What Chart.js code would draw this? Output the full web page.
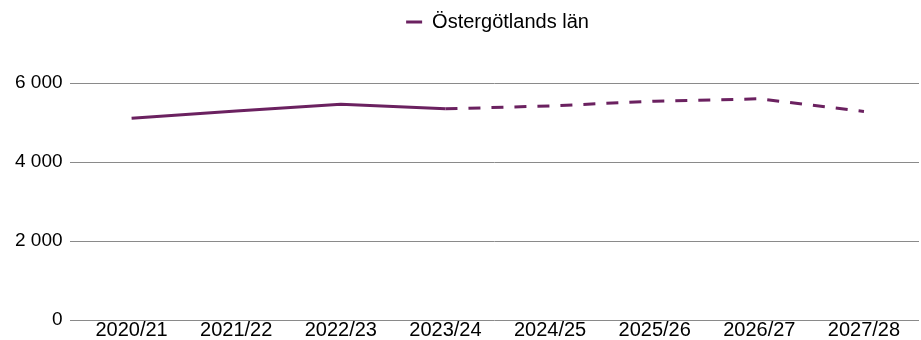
<!DOCTYPE html>
<html>
<head>
<meta charset="utf-8">
<script src="https://cdn.jsdelivr.net/npm/chart.js@4"></script>
<style>
  html, body { margin: 0; padding: 0; background: #fff; }
  #wrap { width: 921px; height: 340px; position: relative; }
</style>
</head>
<body>
<div id="wrap"><canvas id="c"></canvas></div>
<script>
const categories = ['2020/21', '2021/22', '2022/23', '2023/24', '2024/25', '2025/26', '2026/27', '2027/28'];
const seriesName = 'Östergötlands län';
const values = [5110, 5290, 5460, 5345, 5420, 5540, 5600, 5280];
const forecastStartIndex = 3;
const yTicks = [0, 2000, 4000, 6000];

const lineColor = '#6b2160';
const fontFamily = "'Liberation Sans', Arial, sans-serif";

function fmt(v) {
  return String(v).replace(/\B(?=(\d{3})+(?!\d))/g, ' ');
}

const legendSpacer = {
  id: 'legendSpacer',
  beforeInit(chart) {
    const orig = chart.legend.fit;
    chart.legend.fit = function () {
      orig.call(this);
      this.height += 41;
    };
  },
  afterLayout(chart) {
    chart.legend.left += 68;
  }
};

new Chart(document.getElementById('c'), {
  type: 'line',
  data: {
    datasets: [{
      label: seriesName,
      data: values.map((v, i) => ({ x: i, y: v })),
      borderColor: lineColor,
      backgroundColor: lineColor,
      borderWidth: 3,
      pointRadius: 0,
      pointHoverRadius: 0,
      tension: 0,
      fill: false,
      segment: {
        borderDash: ctx => ctx.p0DataIndex >= forecastStartIndex ? [12, 11] : undefined
      }
    }]
  },
  options: {
    responsive: true,
    maintainAspectRatio: false,
    animation: false,
    layout: { padding: { left: 8, right: 2, top: 2, bottom: 0 } },
    plugins: {
      tooltip: { enabled: false },
      legend: {
        display: true,
        position: 'top',
        labels: {
          usePointStyle: true,
          pointStyle: 'line',
          pointStyleWidth: 16,
          boxHeight: 3,
          padding: 10,
          color: '#000',
          font: { family: fontFamily, size: 20 }
        }
      }
    },
    scales: {
      x: {
        type: 'linear',
        min: -0.593,
        max: 7.526,
        grid: { display: false, drawTicks: false },
        border: { display: false },
        afterBuildTicks: s => {
          s.ticks = categories.map((c, i) => ({ value: i }));
        },
        ticks: {
          autoSkip: false,
          maxRotation: 0,
          padding: 0,
          color: '#000',
          font: { family: fontFamily, size: 20, lineHeight: 1 },
          callback: v => categories[v] !== undefined ? categories[v] : ''
        }
      },
      y: {
        min: 0,
        max: 6000,
        afterBuildTicks: s => {
          s.ticks = yTicks.map(v => ({ value: v }));
        },
        grid: { color: '#8a8a8a', lineWidth: 1, drawTicks: false },
        border: { display: false },
        ticks: {
          padding: 7,
          color: '#000',
          font: { family: fontFamily, size: 19 },
          callback: v => fmt(v)
        }
      }
    }
  },
  plugins: [legendSpacer]
});
</script>
</body>
</html>
